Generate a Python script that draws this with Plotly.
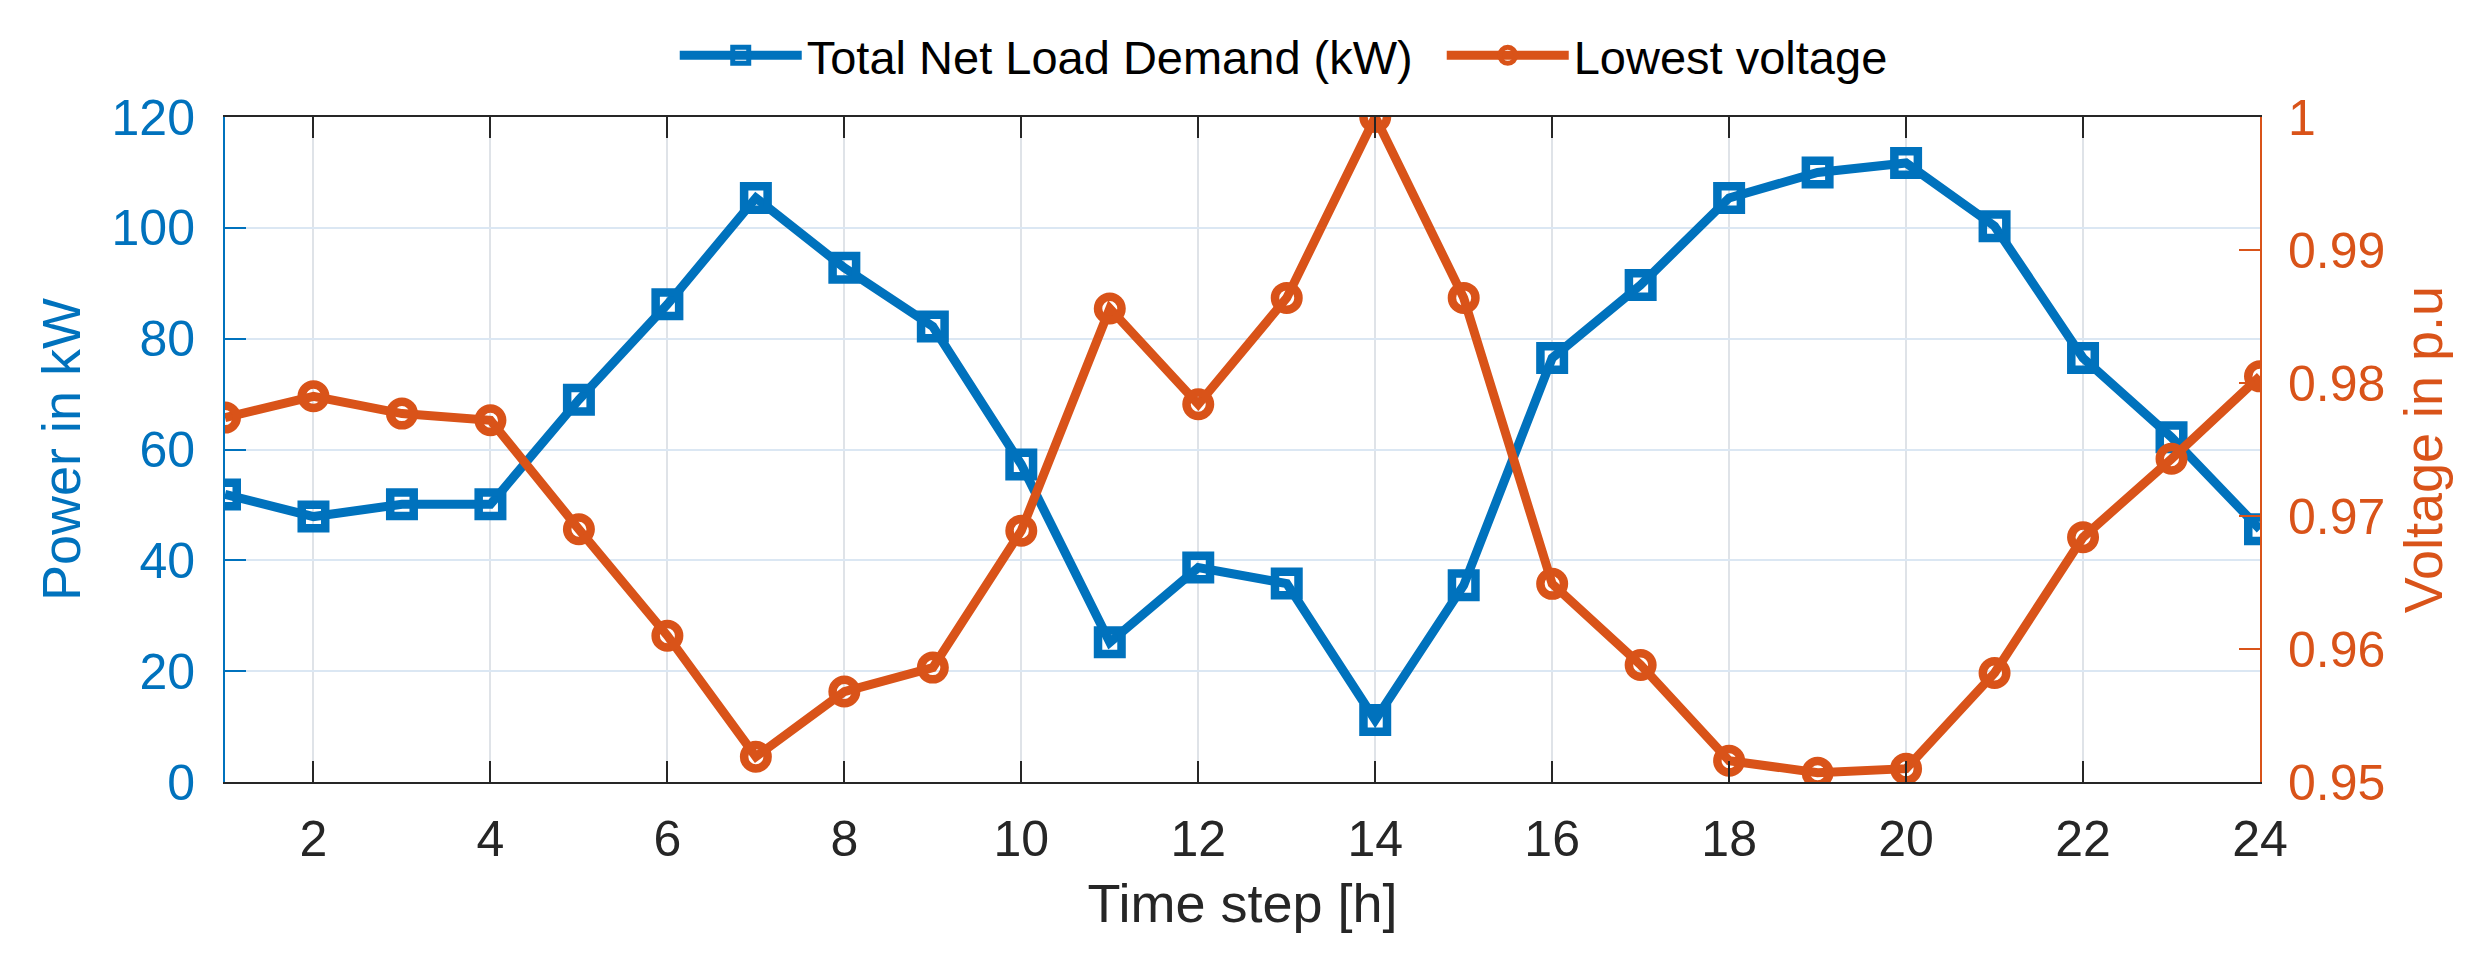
import plotly.graph_objects as go

hours = list(range(1, 25))
net_load_kw = [51.9, 47.9, 50.1, 50.1, 69.0, 86.2, 105.4, 92.8, 82.2, 57.3, 25.2, 38.7,
               35.8, 11.2, 35.5, 76.5, 89.7, 105.4, 110.0, 111.7, 100.3, 76.5, 62.2, 45.6]
lowest_voltage = [0.9774, 0.9790, 0.9777, 0.9772, 0.9690, 0.9610, 0.9519, 0.9568, 0.9586,
                  0.9689, 0.9856, 0.9784, 0.9864, 1.0000, 0.9864, 0.9649, 0.9588, 0.9516,
                  0.9507, 0.9510, 0.9582, 0.9684, 0.9743, 0.9805]

x_ticks = list(range(2, 25, 2))
y_left_ticks = [0, 20, 40, 60, 80, 100, 120]
y_right_ticks = [0.95, 0.96, 0.97, 0.98, 0.99, 1.0]
y_right_text = ["0.95", "0.96", "0.97", "0.98", "0.99", "1"]

BLUE = "#0072BD"
ORANGE = "#D95319"
DARK = "#262626"
FONT = "Liberation Sans, Arial, sans-serif"

fig = go.Figure()
fig.add_trace(go.Scatter(
    x=hours, y=net_load_kw, name="Total Net Load Demand (kW)", yaxis="y",
    mode="lines+markers",
    line=dict(color=BLUE, width=9),
    marker=dict(symbol="square-open", size=23.5, color=BLUE, line=dict(width=8.5, color=BLUE)),
))
fig.add_trace(go.Scatter(
    x=hours, y=lowest_voltage, name="Lowest voltage", yaxis="y2",
    mode="lines+markers",
    line=dict(color=ORANGE, width=9),
    marker=dict(symbol="circle-open", size=23.5, color=ORANGE, line=dict(width=8.5, color=ORANGE)),
))

fig.update_layout(
    width=2483, height=960,
    margin=dict(l=217, r=231, t=109, b=186, autoexpand=False),
    paper_bgcolor="white", plot_bgcolor="white",
    font=dict(family=FONT, size=50, color=DARK),
    showlegend=True,
    legend=dict(orientation="h", x=0.221, xanchor="left", y=1.092, yanchor="middle",
                font=dict(size=47, color="black"), bgcolor="rgba(0,0,0,0)",
                itemwidth=122, entrywidth=630, traceorder="normal"),
    xaxis=dict(
        range=[1, 24], tickvals=x_ticks, ticks="inside", ticklen=21, tickwidth=2,
        tickcolor=DARK, showline=True, linecolor=DARK, linewidth=2, mirror="ticks",
        showgrid=True, gridcolor="#dfe3e8", gridwidth=2, zeroline=False,
        tickfont=dict(size=50, color=DARK), ticklabelstandoff=12,
        title=dict(text="Time step [h]", font=dict(size=54, color=DARK), standoff=18),
    ),
    yaxis=dict(
        range=[0, 120], tickvals=y_left_ticks, ticks="inside", ticklen=21, tickwidth=2,
        tickcolor=BLUE, showline=True, linecolor=BLUE, linewidth=2,
        showgrid=True, gridcolor="#dbe7f3", gridwidth=2, zeroline=False,
        tickfont=dict(size=50, color=BLUE), ticklabelstandoff=18,
        title=dict(text="Power in kW", font=dict(size=54, color=BLUE), standoff=14),
    ),
    yaxis2=dict(
        range=[0.95, 1.0], tickvals=y_right_ticks, ticktext=y_right_text, overlaying="y",
        side="right", ticks="inside", ticklen=21, tickwidth=2, tickcolor=ORANGE,
        showline=True, linecolor=ORANGE, linewidth=2, showgrid=False, zeroline=False,
        tickfont=dict(size=50, color=ORANGE), ticklabelstandoff=16,
        title=dict(text="Voltage in p.u", font=dict(size=54, color=ORANGE), standoff=20),
    ),
)

fig.write_html("out.html")
